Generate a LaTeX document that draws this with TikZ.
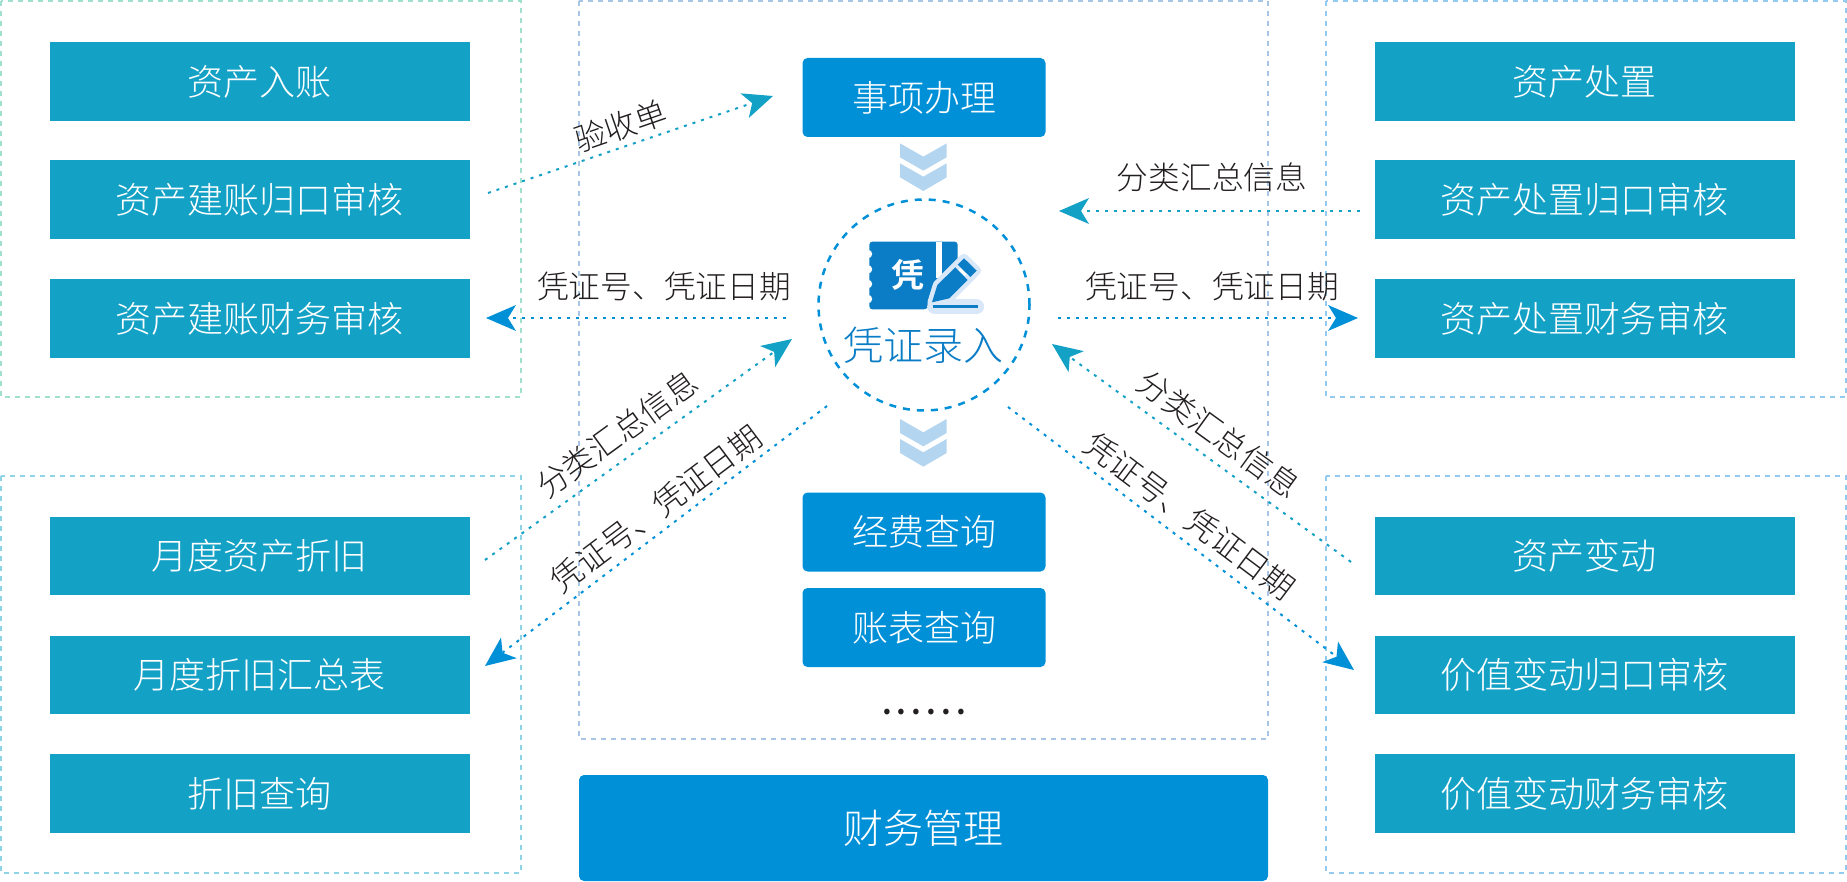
\documentclass[tikz,border=0pt]{standalone}
\usepackage{fontspec}
\setmainfont{Noto Sans CJK SC}[UprightFont=* Light,BoldFont=* Bold]
\usetikzlibrary{arrows.meta}
\definecolor{teal1}{HTML}{14A1C6}
\definecolor{blue1}{HTML}{0090D8}
\definecolor{iconblue}{HTML}{0A7DC6}
\definecolor{pale}{HTML}{D9E8F8}
\definecolor{chev}{HTML}{B4D5EF}
\definecolor{ink}{HTML}{231F20}
\definecolor{fmint}{HTML}{9FE0CF}
\definecolor{fcyan}{HTML}{8FD3E6}
\definecolor{fperi}{HTML}{A9C5E6}
\definecolor{fsky}{HTML}{93CBF0}
\tikzset{
  frame/.style={draw=#1,line width=1.5pt,dash pattern=on 5pt off 5pt},
  tealbox/.style={fill=teal1,text=white,minimum width=420pt,minimum height=78.500pt,inner sep=0pt,font=\fontsize{36}{40}\selectfont},
  bluebox/.style={fill=blue1,rounded corners=5pt,text=white,inner sep=0pt,font=\fontsize{36}{40}\selectfont},
  lbl/.style={text=ink,inner sep=0pt,font=\fontsize{31.700}{36}\selectfont},
  flow/.style={draw=#1,line width=2pt,dash pattern=on 3pt off 6pt,
    -{Stealth[length=30pt,width=26pt,inset=8pt,fill=#1,line width=0pt]}},
  chevron/.style={fill=chev,draw=none}
}
\begin{document}
\begin{tikzpicture}[x=1pt,y=-1pt]
\useasboundingbox (0,0) rectangle (1847,882);
% frames
\draw[frame=fmint] (1,1) rectangle (521,397);
\draw[frame=fcyan] (1,476) rectangle (521,873);
\draw[frame=fperi] (579,1) rectangle (1268,739);
\draw[frame=fsky] (1326,1) rectangle (1846,397);
\draw[frame=fsky] (1326,476) rectangle (1846,873);
% left boxes
\node[tealbox] (a1) at (259.500,81.500) {资产入账};
\node[tealbox] (a2) at (259.500,199.500) {资产建账归口审核};
\node[tealbox] (a3) at (259.500,318.500) {资产建账财务审核};
\node[tealbox] (b1) at (259.500,556) {月度资产折旧};
\node[tealbox] (b2) at (259.500,675) {月度折旧汇总表};
\node[tealbox] (b3) at (259.500,793.500) {折旧查询};
% right boxes
\node[tealbox] (c1) at (1584.500,81.500) {资产处置};
\node[tealbox] (c2) at (1584.500,199.500) {资产处置归口审核};
\node[tealbox] (c3) at (1584.500,318.500) {资产处置财务审核};
\node[tealbox] (d1) at (1584.500,556) {资产变动};
\node[tealbox] (d2) at (1584.500,675) {价值变动归口审核};
\node[tealbox] (d3) at (1584.500,793.500) {价值变动财务审核};
% centre boxes
\node[bluebox,minimum width=243pt,minimum height=79pt] (e1) at (924,97.500) {事项办理};
\node[bluebox,minimum width=243pt,minimum height=79pt] (e2) at (924,532) {经费查询};
\node[bluebox,minimum width=243pt,minimum height=79pt] (e3) at (924,627.500) {账表查询};
\node[text=ink,inner sep=0pt,font=\bfseries\fontsize{30}{34}\selectfont] (dots) at (924,712) {.\hspace{5pt}.\hspace{5pt}.\hspace{5pt}.\hspace{5pt}.\hspace{5pt}.};
\node[bluebox,minimum width=689pt,minimum height=106pt,font=\fontsize{40}{44}\selectfont] (fin) at (923.500,828) {财务管理};
% chevrons
\foreach \dy in {0,275.667}{
  \begin{scope}[shift={(780,\dy)},x=0.33333pt,y=-0.33333pt]
  \fill[chevron] (360,430) -- (430,470) -- (500,430) -- (500,472) -- (430,512) -- (360,472) -- cycle;
  \fill[chevron] (360,490) -- (430,530) -- (500,490) -- (500,532) -- (430,573) -- (360,532) -- cycle;
  \end{scope}
}
% circle
\node[circle,draw=blue1,line width=2.5pt,dash pattern=on 7pt off 7pt,minimum size=211pt,inner sep=0pt] (hub) at (924,305) {};
% icon
\begin{scope}[shift={(780,130)},x=0.33333pt,y=-0.33333pt]
  \fill[iconblue,rounded corners=3pt] (268,335) -- (533,335) -- (533,400) -- (440,538) -- (268,538) -- cycle;
  \foreach \yy in {372,418,462,507} \fill[white] (264,\yy) circle (4.2pt);
  \fill[white] (469,335) rectangle (485,445);
  \draw[pale,fill=white,line width=9pt,line join=round] (456,517) -- (472,465) -- (552,385) -- (590,422) -- (508,505) -- cycle;
  \draw[pale,line width=15pt,line cap=round] (464,530) -- (590,530);
  \fill[iconblue] (456,517) -- (472,465) -- (526,412) -- (563,450) -- (508,505) -- cycle;
  \fill[iconblue] (552,385) -- (590,422) -- (571,441) -- (533,404) -- cycle;
  \draw[iconblue,line width=3.5pt] (458,530) -- (595,530);
  \node[text=white,inner sep=0pt,font=\bfseries\fontsize{33}{36}\selectfont] (iconchar) at (383,435) {凭};
\end{scope}
\node[text=iconblue,inner sep=0pt,font=\fontsize{40}{44}\selectfont] (hubtext) at (923,345) {凭证录入};
% connector ends
\coordinate (p1) at (488,193); \coordinate (q1) at (773,96);
\coordinate (p2) at (1360,211); \coordinate (q2) at (1059,211);
\coordinate (p3) at (786,318); \coordinate (q3) at (486,318);
\coordinate (p4) at (1058,318); \coordinate (q4) at (1358,318);
\coordinate (p5) at (485,560); \coordinate (q5) at (792,339);
\coordinate (p6) at (827,406); \coordinate (q6) at (485,666);
\coordinate (p7) at (1351,562); \coordinate (q7) at (1052,344);
\coordinate (p8) at (1008,407); \coordinate (q8) at (1354,670);
\draw[flow=teal1] (p1) -- (q1);
\draw[flow=teal1] (p2) -- (q2);
\draw[flow=blue1] (p3) -- (q3);
\draw[flow=blue1] (p4) -- (q4);
\draw[flow=teal1] (p5) -- (q5);
\draw[flow=blue1] (p6) -- (q6);
\draw[flow=teal1] (p7) -- (q7);
\draw[flow=blue1] (p8) -- (q8);
% labels
\node[lbl,rotate=19] (l1) at (621,126) {验收单};
\node[lbl] (l2) at (1212,177) {分类汇总信息};
\node[lbl] (l3) at (664,287) {凭证号、凭证日期};
\node[lbl] (l4) at (1212,287) {凭证号、凭证日期};
\node[lbl,rotate=36] (l5) at (617,434) {分类汇总信息};
\node[lbl,rotate=37] (l6) at (656,509) {凭证号、凭证日期};
\node[lbl,rotate=-36] (l7) at (1219,434) {分类汇总信息};
\node[lbl,rotate=-37] (l8) at (1190,516) {凭证号、凭证日期};
\end{tikzpicture}
\end{document}
